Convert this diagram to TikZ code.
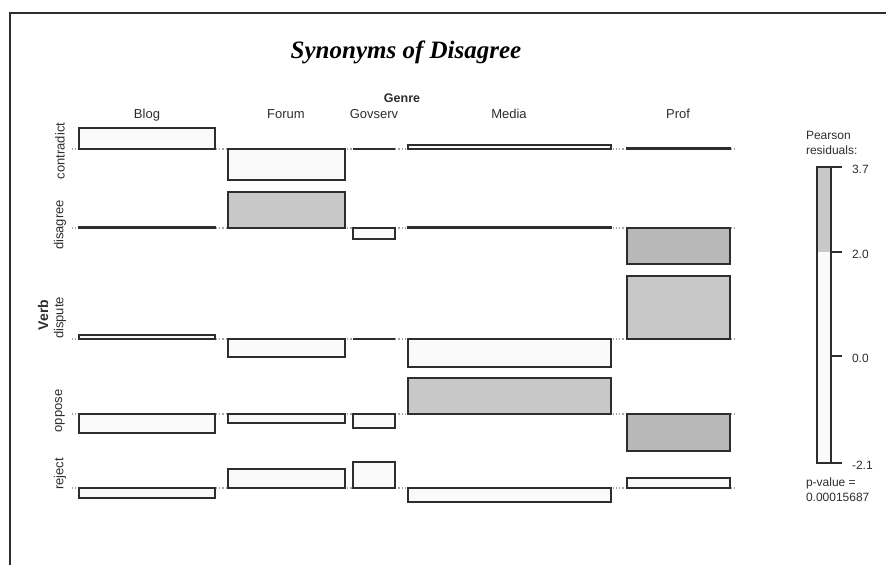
\documentclass[tikz,border=0pt]{standalone}
\usepackage{fontspec}
\setmainfont{Liberation Sans}
\newfontfamily\titlefont{Liberation Serif}
\usepackage{xcolor}
\usepackage{tikz}
\usetikzlibrary{positioning}
\definecolor{mygrayi}{RGB}{200,200,200}
\definecolor{mygrayii}{RGB}{184,184,184}
\definecolor{mywhite}{RGB}{250,250,250}
\definecolor{myline}{RGB}{45,45,45}

\begin{document}
\begin{tikzpicture}[x=1pt,y=-1pt,inner sep=0pt,outer sep=0pt,
lab/.style={
  font={\fontsize{13}{14}\selectfont},
  text=myline},
collab/.style={lab, anchor=base},
rowlab/.style={lab, rotate=90},
leglab/.style={font={\fontsize{12}{13}\selectfont}, text=myline, anchor=west},
cell/.style={draw=myline, line width=1.4pt, fill=mywhite},
baseline/.style={draw=gray!70, dotted, line width=1.2pt},
tick/.style={draw=myline, line width=1.2pt},
]
\useasboundingbox (0,0) rectangle (886,565);
\draw[line width=2pt, myline] (10,565) -- (10,13) -- (886,13);

% title and headers
\node[anchor=base, font={\titlefont\bfseries\itshape\fontsize{25}{28}\selectfont}] (title) at (406,58) {Synonyms of Disagree};
\node[collab, font={\bfseries\fontsize{12.5}{14}\selectfont}] (genre) at (402,102) {Genre};
\foreach \x/\g in {147/Blog,286/Forum,374/Govserv,509/Media,678/Prof}
  \node[collab] (\g) at (\x,118) {\g};
\node[rowlab, font={\bfseries\fontsize{14}{15}\selectfont}] (verb) at (43,315) {Verb};
\foreach \y/\v in {151/contradict,225/disagree,318/dispute,411/oppose,474/reject}
  \node[rowlab] (\v) at (60,\y) {\v};

% baselines
\foreach \y in {149,228,339,414,488}
  \draw[baseline] (72,\y) -- (735,\y);

% residual cells
\foreach \xa/\xb/\ya/\yb/\f in {
  79/215/128/149/mywhite, 228/345/149/180/mywhite, 353/395/149/149/mywhite,
  408/611/145/149/mywhite, 627/730/148/149/mywhite,
  79/215/227/228/mywhite, 228/345/192/228/mygrayi, 353/395/228/239/mywhite,
  408/611/227/228/mywhite, 627/730/228/264/mygrayii,
  79/215/335/339/mywhite, 228/345/339/357/mywhite, 353/395/339/339/mywhite,
  408/611/339/367/mywhite, 627/730/276/339/mygrayi,
  79/215/414/433/mywhite, 228/345/414/423/mywhite, 353/395/414/428/mywhite,
  408/611/378/414/mygrayi, 627/730/414/451/mygrayii,
  79/215/488/498/mywhite, 228/345/469/488/mywhite, 353/395/462/488/mywhite,
  408/611/488/502/mywhite, 627/730/478/488/mywhite}
  \draw[cell, fill=\f] (\xa,\ya) rectangle (\xb,\yb);

% legend
\node[leglab] (pearson) at (806,135) {Pearson};
\node[leglab] (resid) at (806,150) {residuals:};
\fill[mygrayi] (817,167) rectangle (831,252);
\fill[mywhite] (817,252) rectangle (831,463);
\draw[tick] (817,167) rectangle (831,463);
\foreach \y/\t in {167/3.7,252/2.0,356/0.0,463/-2.1}{
  \draw[tick] (831,\y) -- (842,\y);
  \node[leglab] (r\t) at (852,\y+2) {\t};
}
\node[leglab] (pval) at (806,483) {p-value =};
\node[leglab] (pnum) at (806,497) {0.00015687};
\end{tikzpicture}
\end{document}
